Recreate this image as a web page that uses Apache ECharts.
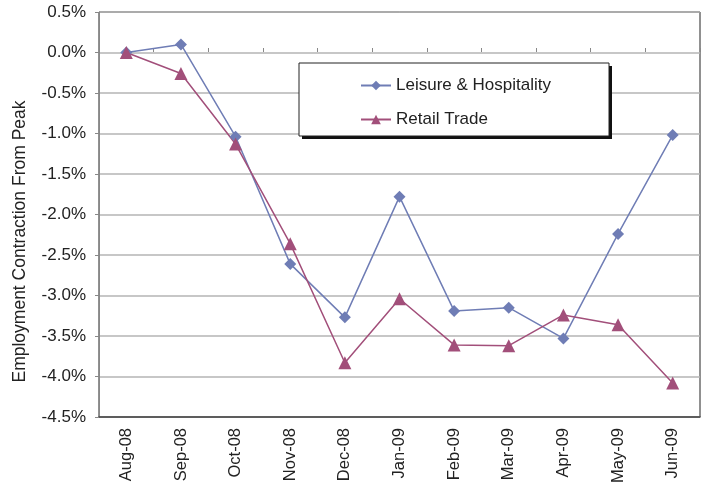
<!DOCTYPE html>
<html>
<head>
<meta charset="utf-8">
<script src="https://cdn.jsdelivr.net/npm/echarts@6/dist/echarts.min.js"></script>
<style>html,body{margin:0;padding:0;background:#fff}#c{width:707px;height:492px}</style>
</head>
<body>
<div id="c"></div>
<script>
const categories = ['Aug-08','Sep-08','Oct-08','Nov-08','Dec-08','Jan-09','Feb-09','Mar-09','Apr-09','May-09','Jun-09'];
const leisure = [0.0, 0.10, -1.04, -2.61, -3.27, -1.78, -3.19, -3.15, -3.53, -2.24, -1.02];
const retail = [0.0, -0.26, -1.13, -2.36, -3.83, -3.04, -3.61, -3.62, -3.24, -3.36, -4.08];
const yTitle = 'Employment Contraction From Peak';

const chart = echarts.init(document.getElementById('c'), null, {renderer: 'canvas'});
const font = 'Liberation Sans, Arial, sans-serif';
chart.setOption({
  animation: false,
  backgroundColor: '#fff',
  grid: {left: 99, top: 12, right: 7, bottom: 75, show: true, borderColor: '#222', borderWidth: 1, containLabel: false},
  graphic: [
    {type: 'rect', z: 10, shape: {x: 302, y: 66, width: 310, height: 73}, style: {fill: '#111'}},
    {type: 'rect', z: 11, shape: {x: 299, y: 63, width: 310, height: 73}, style: {fill: '#fff', stroke: '#222', lineWidth: 1}}
  ],
  legend: {
    z: 20,
    orient: 'vertical', left: 299, top: 63,
    padding: [14, 58, 11, 61],
    itemGap: 17, itemWidth: 30, itemHeight: 12,
    textStyle: {fontFamily: font, fontSize: 17, color: '#222'},
    data: ['Leisure & Hospitality', 'Retail Trade']
  },
  xAxis: [{
    type: 'category', data: categories, position: 'bottom', boundaryGap: true,
    axisLine: {show: true, onZero: false, lineStyle: {color: '#444', width: 1.5}},
    axisTick: {show: false},
    axisLabel: {rotate: 90, fontFamily: font, fontSize: 16.5, color: '#222', margin: 11},
    splitLine: {show: false}
  }, {
    type: 'category', data: categories, position: 'top', offset: -40, boundaryGap: true,
    axisLine: {show: false, onZero: false},
    axisTick: {show: true, length: 4, lineStyle: {color: '#888'}},
    axisLabel: {show: false},
    splitLine: {show: false}
  }],
  yAxis: {
    type: 'value', min: -4.5, max: 0.5, interval: 0.5,
    name: yTitle, nameLocation: 'middle', nameGap: 70,
    nameTextStyle: {fontFamily: font, fontSize: 17.5, color: '#222', padding: [0, 54, 0, 0]},
    axisLine: {show: true, lineStyle: {color: '#888'}},
    axisTick: {show: true, length: 4, lineStyle: {color: '#888'}},
    axisLabel: {fontFamily: font, fontSize: 17, color: '#222', margin: 13,
      formatter: v => v.toFixed(1) + '%'},
    splitLine: {show: true, lineStyle: {color: '#b4b4b4', width: 1.5}}
  },
  series: [{
    name: 'Leisure & Hospitality', type: 'line', data: leisure,
    symbol: 'diamond', symbolSize: 12,
    itemStyle: {color: '#6f7db5'},
    lineStyle: {color: '#6f7db5', width: 1.5}
  }, {
    name: 'Retail Trade', type: 'line', data: retail,
    symbol: 'triangle', symbolSize: 13,
    itemStyle: {color: '#a24f7a'},
    lineStyle: {color: '#a24f7a', width: 1.5}
  }]
});
</script>
</body>
</html>
